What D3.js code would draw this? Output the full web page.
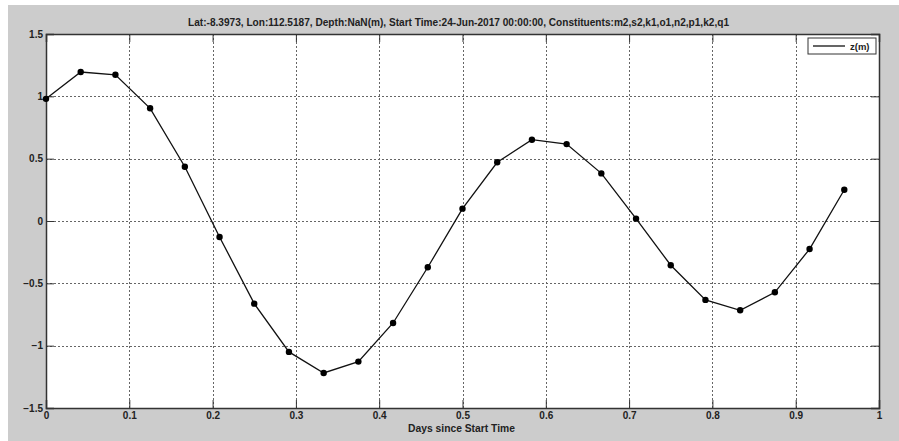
<!DOCTYPE html>
<html>
<head>
<meta charset="utf-8">
<script src="https://cdn.jsdelivr.net/npm/d3@7"></script>
<style>
  html, body { margin: 0; padding: 0; background: #ffffff; }
  svg { display: block; }
</style>
</head>
<body>
<svg id="chart" width="899" height="441"></svg>
<script>
// Hourly tidal height over one day
const hours = [...Array(24).keys()];
const days = hours.map((h) => h / 24);
const zValues = [
    0.98, 1.195, 1.173, 0.904, 0.435, -0.128, -0.663, -1.05,
    -1.219, -1.128, -0.818, -0.371, 0.099, 0.471, 0.652, 0.617,
    0.382, 0.019, -0.355, -0.633, -0.716, -0.572, -0.225, 0.251
];
const xTicks = [0, 0.1, 0.2, 0.3, 0.4, 0.5, 0.6, 0.7, 0.8, 0.9, 1];
const yTicks = [-1.5, -1, -0.5, 0, 0.5, 1, 1.5];
const titleText =
    'Lat:-8.3973, Lon:112.5187, Depth:NaN(m), Start Time:24-Jun-2017 00:00:00, Constituents:m2,s2,k1,o1,n2,p1,k2,q1';
const xLabel = 'Days since Start Time';
const legendLabel = 'z(m)';

const font = 'Arial, "Liberation Sans", sans-serif';
const plot = { left: 46, right: 879, top: 34, bottom: 408 };

const svg = d3.select('#chart');

// grey figure background, white strip on left/top
svg.append('rect')
    .attr('x', 8).attr('y', 5)
    .attr('width', 891).attr('height', 436)
    .attr('fill', '#cccccc');

const x = d3.scaleLinear().domain([0, 1]).range([plot.left, plot.right]);
const y = d3.scaleLinear().domain([-1.5, 1.5]).range([plot.bottom, plot.top]);

svg.append('rect')
    .attr('x', plot.left).attr('y', plot.top)
    .attr('width', plot.right - plot.left).attr('height', plot.bottom - plot.top)
    .attr('fill', '#ffffff');

// dotted grid
const grid = svg.append('g')
    .attr('stroke', '#666')
    .attr('stroke-width', 1)
    .attr('stroke-dasharray', '2,2');
grid.selectAll('.gx')
    .data(xTicks.slice(1, -1))
    .join('line')
    .attr('x1', (d) => Math.round(x(d)) + 0.5).attr('x2', (d) => Math.round(x(d)) + 0.5)
    .attr('y1', plot.top).attr('y2', plot.bottom);
grid.selectAll('.gy')
    .data(yTicks.slice(1, -1))
    .join('line')
    .attr('y1', (d) => Math.round(y(d)) + 0.5).attr('y2', (d) => Math.round(y(d)) + 0.5)
    .attr('x1', plot.left).attr('x2', plot.right);

// axes with inward ticks (MATLAB style)
const tickLen = 8;
const fmt = (d) => d3.format('~g')(d);
const xAxis = d3.axisBottom(x).tickValues(xTicks).tickSize(-tickLen).tickPadding(4).tickFormat(fmt);
const yAxis = d3.axisLeft(y).tickValues(yTicks).tickSize(-tickLen).tickPadding(3).tickFormat(fmt);

const styleAxis = (g) => {
    g.selectAll('path').attr('stroke', '#333').attr('stroke-width', 1.5);
    g.selectAll('line').attr('stroke', '#333');
    g.selectAll('text')
        .attr('font-family', font)
        .attr('font-size', 10)
        .attr('font-weight', 'bold')
        .attr('fill', '#222');
};

svg.append('g')
    .attr('transform', `translate(0,${plot.bottom})`)
    .call(xAxis)
    .call(styleAxis);
svg.append('g')
    .attr('transform', `translate(${plot.left},0)`)
    .call(yAxis)
    .call(styleAxis);
svg.append('g')
    .attr('transform', `translate(0,${plot.top})`)
    .call(d3.axisTop(x).tickValues(xTicks).tickSize(-tickLen).tickFormat(''))
    .call(styleAxis);
svg.append('g')
    .attr('transform', `translate(${plot.right},0)`)
    .call(d3.axisRight(y).tickValues(yTicks).tickSize(-tickLen).tickFormat(''))
    .call(styleAxis);

// series
const data = days.map((d, i) => ({ t: d, z: zValues[i] }));
svg.append('path')
    .datum(data)
    .attr('fill', 'none')
    .attr('stroke', '#111')
    .attr('stroke-width', 1.3)
    .attr('d', d3.line().x((d) => x(d.t)).y((d) => y(d.z)));
svg.selectAll('.pt')
    .data(data)
    .join('circle')
    .attr('cx', (d) => x(d.t))
    .attr('cy', (d) => y(d.z))
    .attr('r', 3.2)
    .attr('fill', '#000');

// title and x label
svg.append('text')
    .attr('x', (plot.left + plot.right) / 2 - 4)
    .attr('y', 26)
    .attr('text-anchor', 'middle')
    .attr('font-family', font)
    .attr('font-size', 10)
    .attr('font-weight', 'bold')
    .attr('fill', '#222')
    .attr('textLength', 541)
    .attr('lengthAdjust', 'spacingAndGlyphs')
    .text(titleText);
svg.append('text')
    .attr('x', (plot.left + plot.right) / 2 - 1)
    .attr('y', 432)
    .attr('text-anchor', 'middle')
    .attr('font-family', font)
    .attr('font-size', 10.3)
    .attr('font-weight', 'bold')
    .attr('fill', '#222')
    .text(xLabel);

// legend
const legend = svg.append('g').attr('transform', 'translate(808,38)');
legend.append('rect')
    .attr('width', 68).attr('height', 16)
    .attr('fill', '#fff').attr('stroke', '#333').attr('stroke-width', 1);
legend.append('line')
    .attr('x1', 5).attr('x2', 37).attr('y1', 8).attr('y2', 8)
    .attr('stroke', '#111').attr('stroke-width', 1.3);
legend.append('text')
    .attr('x', 42).attr('y', 12)
    .attr('font-family', font)
    .attr('font-size', 9.5)
    .attr('font-weight', 'bold')
    .attr('fill', '#222')
    .text(legendLabel);
</script>
</body>
</html>
